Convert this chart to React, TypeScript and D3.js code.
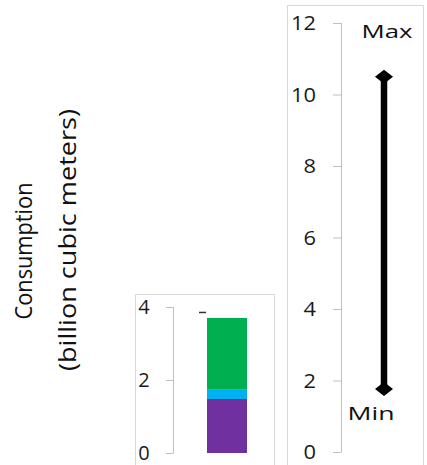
import React from "react";
import * as d3 from "d3";

const stackSegments = ["Purple", "Cyan", "Green"];
const stackValues = [1.48, 0.27, 1.95];
const stackColors = ["#7030a0", "#00b0f0", "#00b050"];
const leftTicks = [0, 2, 4];
const dashValue = 3.85;

const rangeLabels = ["Min", "Max"];
const rangeValues = [1.76, 10.5];
const rightTicks = [0, 2, 4, 6, 8, 10, 12];

const yTitle = ["Consumption", "(billion cubic meters)"];

const FONT = "'Open Sans', 'Noto Sans', sans-serif";

export default function App() {
  const yL = d3.scaleLinear().domain([0, 4]).range([453, 307]);
  const yR = d3.scaleLinear().domain([0, 12]).range([452, 23]);

  const stacked = d3.cumsum(stackValues);
  const bars = stackValues.map((v, i) => ({
    name: stackSegments[i],
    y0: stacked[i] - v,
    y1: stacked[i],
    color: stackColors[i],
  }));

  const barX = 207, barW = 40;
  const lineX = 384;
  const diamond = (cx: number, cy: number) =>
    `M${cx - 9},${cy} L${cx},${cy - 7} L${cx + 9},${cy} L${cx},${cy + 7} Z`;

  const tickLen = (t: number) => String(t).length * 12.5;

  return (
    <svg
      width={427}
      height={465}
      style={{ position: "absolute", left: 0, top: 0, background: "#fff" }}
      fontFamily={FONT}
    >
      {/* Y title */}
      <g transform="translate(24,251) rotate(-90)">
        <text textAnchor="middle" fontSize={24} fill="#111" dy="0.35em" textLength={137} lengthAdjust="spacingAndGlyphs">
          {yTitle[0]}
        </text>
      </g>
      <g transform="translate(68,240) rotate(-90)">
        <text textAnchor="middle" fontSize={24} fill="#111" dy="0.35em" textLength={262} lengthAdjust="spacingAndGlyphs">
          {yTitle[1]}
        </text>
      </g>

      {/* Left panel */}
      <rect x={135.5} y={294.5} width={139} height={175} fill="none" stroke="#d9d9d9" />
      <line x1={173.5} x2={173.5} y1={yL(4)} y2={yL(0)} stroke="#bfbfbf" />
      {leftTicks.map((t) => (
        <g key={t}>
          <line x1={166} x2={173.5} y1={yL(t) + 0.5} y2={yL(t) + 0.5} stroke="#bfbfbf" />
          <text x={144} y={yL(t)} dy="0.36em" textAnchor="middle" fontSize={20} fill="#1a1a1a">
            {t}
          </text>
        </g>
      ))}
      {bars.map((b) => (
        <rect key={b.name} x={barX} width={barW} y={yL(b.y1)} height={yL(b.y0) - yL(b.y1)} fill={b.color} />
      ))}
      <line x1={199} x2={206} y1={yL(dashValue)} y2={yL(dashValue)} stroke="#333" strokeWidth={1.5} />

      {/* Right panel */}
      <rect x={287.5} y={5.5} width={136} height={465} fill="none" stroke="#d9d9d9" />
      <line x1={341.5} x2={341.5} y1={yR(12)} y2={yR(0)} stroke="#bfbfbf" />
      {rightTicks.map((t) => (
        <g key={t}>
          <line x1={333} x2={341.5} y1={yR(t) + 0.5} y2={yR(t) + 0.5} stroke="#bfbfbf" />
          <text x={316} y={yR(t)} dy="0.36em" textAnchor="end" fontSize={20} fill="#1a1a1a"
            textLength={tickLen(t)} lengthAdjust="spacingAndGlyphs">
            {t}
          </text>
        </g>
      ))}
      <line x1={lineX} x2={lineX} y1={yR(rangeValues[0])} y2={yR(rangeValues[1])} stroke="#000" strokeWidth={6.5} />
      {rangeValues.map((v, i) => (
        <path key={rangeLabels[i]} d={diamond(lineX, yR(v))} fill="#000" />
      ))}
      <text x={387} y={31} dy="0.36em" textAnchor="middle" fontSize={19} fill="#111" textLength={51} lengthAdjust="spacingAndGlyphs">
        {rangeLabels[1]}
      </text>
      <text x={371} y={413} dy="0.36em" textAnchor="middle" fontSize={19} fill="#111" textLength={47} lengthAdjust="spacingAndGlyphs">
        {rangeLabels[0]}
      </text>
    </svg>
  );
}
